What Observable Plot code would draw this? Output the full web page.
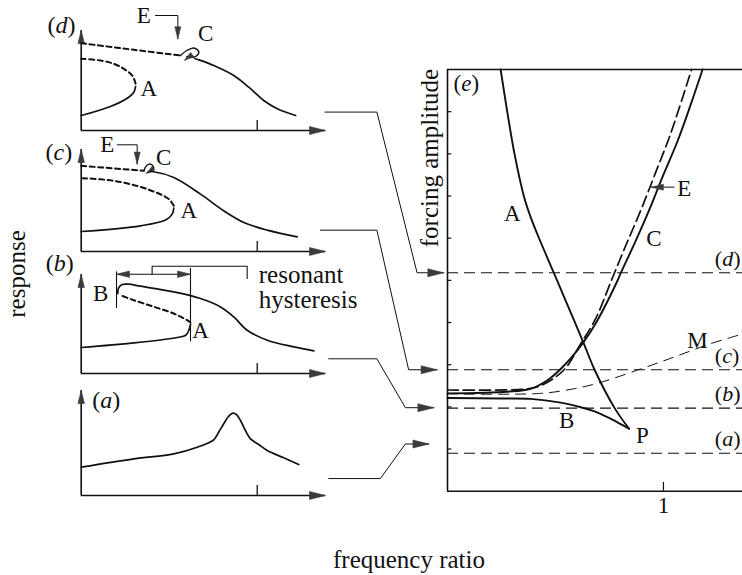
<!DOCTYPE html>
<html>
<head>
<meta charset="utf-8">
<script src="https://cdn.jsdelivr.net/npm/d3@7"></script>
<script src="https://cdn.jsdelivr.net/npm/@observablehq/plot@0.6"></script>
<style>
  html, body { margin: 0; padding: 0; background: #fff; }
  #fig { position: relative; width: 742px; height: 575px; overflow: hidden; background: #fff;
         font-family: "Liberation Serif", "Times New Roman", serif; color: #111; }
  #fig svg { position: absolute; overflow: visible; }
  .lbl { position: absolute; font-size: 25px; white-space: nowrap; line-height: 1; }
  #resp { left: 16px; top: 274px; transform: translate(-50%, -50%) rotate(-90deg); }
  #freq { left: 409px; top: 547px; transform: translateX(-50%); }
</style>
</head>
<body>
<div id="fig">
  <div class="lbl" id="resp">response</div>
  <div class="lbl" id="freq">frequency ratio</div>
</div>
<script>
// ---------------- DATA ----------------
// small panels: [frequency ratio, response]
const FR_MAX = 1.388;              // end of the small panels' frequency axes
const RESONANCE = 1;               // tick on the frequency axes

// panel (a) – linear-like resonance
const aCurve = [[0,0.283],[0.299,0.367],[0.526,0.417],[0.659,0.483],[0.753,0.557],[0.780,0.63],[0.810,0.717],[0.837,0.79],[0.861,0.823],[0.882,0.81],[0.905,0.75],[0.933,0.65],[0.962,0.567],[1.008,0.51],[1.057,0.45],[1.151,0.377],[1.236,0.31]];

// panel (b) – resonant hysteresis
const bLower = [[0,0.26],[0.299,0.306],[0.546,0.36],[0.594,0.383],[0.612,0.433],[0.621,0.49]];
const bUnstable = [[0.621,0.51],[0.602,0.533],[0.526,0.60],[0.413,0.667],[0.299,0.733],[0.223,0.783]];
const bUpper = [[0.208,0.80],[0.212,0.853],[0.233,0.89],[0.269,0.893],[0.337,0.873],[0.526,0.816],[0.678,0.75],[0.792,0.666],[0.867,0.566],[0.943,0.433],[1.057,0.333],[1.208,0.266],[1.322,0.226]];
const bJumpB = 0.2006, bJumpA = 0.621;   // frequencies of the two jumps
const bBracket = [[0.403,0.993],[0.403,1.073],[0.943,1.073],[0.943,0.95]];

// panel (c)
const cLower = [[0,0.20],[0.337,0.257],[0.479,0.314],[0.517,0.374],[0.526,0.434]];
const cUnstable = [[0.526,0.457],[0.498,0.524],[0.375,0.624],[0.185,0.707],[0,0.734]];
const cUpperUnstable = [[0,0.857],[0.356,0.807]];
const cJump = [[0.356,0.807],[0.372,0.86],[0.398,0.872],[0.412,0.835],[0.398,0.80],[0.375,0.79]];
const cUpper = [[0.395,0.80],[0.403,0.80],[0.526,0.74],[0.678,0.574],[0.810,0.407],[0.924,0.29],[1.057,0.214],[1.227,0.147]];
const cE = [[0.205,1.067],[0.318,1.067],[0.318,0.874]];

// panel (d)
const dLower = [[0,0.15],[0.166,0.24],[0.270,0.333],[0.299,0.383],[0.309,0.44]];
const dUnstable = [[0.309,0.467],[0.290,0.55],[0.242,0.617],[0.185,0.667],[0.110,0.70],[0,0.717]];
const dUpperUnstable = [[0,0.873],[0.299,0.807],[0.564,0.75]];
const dJump = [[0.564,0.75],[0.60,0.80],[0.64,0.825],[0.668,0.79],[0.655,0.745],[0.62,0.73],[0.60,0.74]];
const dUpper = [[0.645,0.72],[0.668,0.707],[0.753,0.65],[0.867,0.55],[0.952,0.433],[1.037,0.30],[1.114,0.217],[1.218,0.15]];
const dE = [[0.422,1.15],[0.549,1.15],[0.549,0.917]];

// panel (e): [frequency ratio, forcing amplitude]
const E_XMAX = 1.366;
const forcingTicks = [1,2,3,4,5,6,7,8,9];
const forcingLevels = [
  {label: "(a)", F: 0.90}, {label: "(b)", F: 1.97}, {label: "(c)", F: 2.88}, {label: "(d)", F: 5.18}
];
const curveA = [[0.246,10],[0.277,8.99],[0.311,7.98],[0.354,6.99],[0.385,6.50],[0.423,6.01],[0.493,5.17],[0.547,4.52],[0.629,3.53],[0.681,2.88],[0.774,1.97],[0.841,1.48]];
const curveB = [[0,2.21],[0.246,2.20],[0.385,2.19],[0.524,2.10],[0.617,1.99],[0.677,1.90],[0.755,1.72],[0.841,1.48]];
const curveC = [[0,2.32],[0.277,2.36],[0.385,2.43],[0.463,2.63],[0.540,2.98],[0.629,3.53],[0.694,4.05],[0.787,4.99],[0.802,5.17],[0.872,5.94],[0.939,6.73],[1.001,7.52],[1.066,8.31],[1.127,9.18],[1.181,10]];
const curveE = [[0,2.40],[0.354,2.42],[0.431,2.50],[0.540,2.88],[0.617,3.50],[0.686,4.09],[0.759,5.0],[0.825,5.82],[0.895,6.66],[0.964,7.56],[1.034,8.49],[1.130,10]];
const curveM = [[0,2.31],[0.431,2.32],[0.586,2.43],[0.709,2.58],[0.895,2.90],[1.049,3.18],[1.219,3.50],[1.368,3.73]];
const eArrow = [[1.049,7.21],[0.944,7.21]];

// connectors from the small panels to the forcing levels (in panel (e) units)
const connectors = [
  {level: "(d)", pts: [[-0.567,8.99],[-0.327,8.99],[-0.141,5.18],[-0.017,5.18]]},
  {level: "(c)", pts: [[-0.589,6.19],[-0.327,6.19],[-0.180,2.88],[-0.048,2.88]]},
  {level: "(b)", pts: [[-0.550,3.14],[-0.327,3.14],[-0.195,1.98],[-0.063,1.98]]},
  {level: "(a)", pts: [[-0.550,0.30],[-0.311,0.30],[-0.195,1.12],[-0.086,1.12]]}
];

// ---------------- HELPERS ----------------
const fig = document.getElementById("fig");
const FONT = "'Liberation Serif', 'Times New Roman', serif";
const INK = "#111", HEAD = "#3a3a3a";

function head(dx, dy) {
  return {draw(ctx, size) {
    const r = Math.sqrt(size / Math.PI), L = 2 * r, W = 0.5 * r;
    const bx = -L * dx, by = -L * dy;
    ctx.moveTo(0, 0);
    ctx.lineTo(bx - W * dy, by + W * dx);
    ctx.lineTo(bx + W * dy, by - W * dx);
    ctx.closePath();
  }};
}
const UP = head(0, -1), DOWN = head(0, 1), LEFT = head(-1, 0), RIGHT = head(1, 0);
const DOWNLEFT = head(-0.8, 0.6);
const X = d => d[0], Y = d => d[1];

function heads(points, symbol, r) {
  return Plot.dot(points, {x: X, y: Y, symbol, r, fill: HEAD, stroke: HEAD, strokeWidth: 0.6});
}
function solid(data, w = 1.7) {
  return Plot.line(data, {x: X, y: Y, curve: "catmull-rom", stroke: INK, strokeWidth: w});
}
function dashed(data, dash = "5,3.5", w = 2) {
  return Plot.line(data, {x: X, y: Y, curve: "catmull-rom", stroke: INK, strokeWidth: w, strokeDasharray: dash});
}
function label(text, x, y, opts = {}) {
  return Plot.text([text], {x: () => x, y: () => y, text: d => d, fontSize: 23, fill: INK, fontFamily: FONT, ...opts});
}

function smallPanel(axisY, yTop, marks) {
  const svg = Plot.plot({
    width: 380, height: 140,
    marginLeft: 80.7, marginRight: 55, marginTop: 30, marginBottom: 10,
    x: {domain: [0, FR_MAX], axis: null},
    y: {domain: [0, 1], axis: null},
    style: {background: "transparent", overflow: "visible", fontFamily: FONT},
    marks: [
      Plot.ruleX([0], {y1: 0, y2: yTop, stroke: INK, strokeWidth: 1.6}),
      Plot.ruleY([0], {x1: 0, x2: FR_MAX, stroke: INK, strokeWidth: 1.6}),
      Plot.ruleX([RESONANCE], {y1: 0, y2: 0.1, stroke: INK, strokeWidth: 1.3}),
      heads([[0, yTop]], UP, 6.5),
      heads([[FR_MAX, 0]], RIGHT, 8),
      ...marks
    ]
  });
  svg.style.left = "0px";
  svg.style.top = (axisY - 130) + "px";
  fig.appendChild(svg);
}

// ---------------- PANEL (e) ----------------
const flatConnectors = connectors.flatMap(c => c.pts.map(p => ({x: p[0], y: p[1], level: c.level})));
const ePlot = Plot.plot({
  width: 742, height: 575,
  marginLeft: 447, marginRight: 0, marginTop: 69, marginBottom: 84.3,
  x: {domain: [0, E_XMAX], axis: null},
  y: {domain: [0, 10], axis: null},
  style: {background: "transparent", overflow: "visible", fontFamily: FONT},
  marks: [
    Plot.ruleY(forcingLevels, {y: "F", x1: 0, x2: E_XMAX, stroke: INK, strokeWidth: 1.2, strokeDasharray: "11,6"}),
    dashed(curveM, "10,7", 1),
    dashed(curveE, "11,5", 1.7),
    solid(curveC, 1.9),
    solid(curveA, 1.9),
    solid(curveB, 1.9),
    Plot.ruleX([0], {y1: 0, y2: 10, stroke: INK, strokeWidth: 1.6}),
    Plot.ruleY([0, 10], {x1: 0, x2: E_XMAX, stroke: INK, strokeWidth: 1.6}),
    Plot.ruleY(forcingTicks, {x1: 0, x2: 0.02, stroke: INK, strokeWidth: 1.2}),
    Plot.ruleX([1], {y1: 0, y2: 0.21, stroke: INK, strokeWidth: 1.2}),
    Plot.text([1], {x: d => d, y: () => -0.34, text: d => String(d), fontSize: 23, fill: INK, fontFamily: FONT}),
    Plot.line(eArrow, {x: X, y: Y, stroke: INK, strokeWidth: 1}),
    heads([eArrow[1]], LEFT, 6),
    Plot.line(flatConnectors, {x: "x", y: "y", z: "level", stroke: INK, strokeWidth: 1}),
    heads(connectors.map(c => c.pts[c.pts.length - 1]), RIGHT, 8),
    Plot.text(["forcing amplitude"], {x: () => -0.083, y: () => 7.90, text: d => d, rotate: -90, fontSize: 25, fill: INK, fontFamily: FONT}),
    label("(e)", 0.028, 9.67, {textAnchor: "start"}),
    label("A", 0.300, 6.58),
    label("C", 0.956, 5.99),
    label("E", 1.096, 7.17),
    label("M", 1.158, 3.57),
    label("B", 0.552, 1.68),
    label("P", 0.903, 1.32),
    Plot.text(forcingLevels, {x: () => 1.238, y: d => d.F + 0.33, text: "label", textAnchor: "start", fontSize: 22, fill: INK, fontFamily: FONT})
  ]
});
ePlot.style.left = "0px";
ePlot.style.top = "0px";
fig.appendChild(ePlot);

// ---------------- SMALL PANELS ----------------
smallPanel(130, 1.0, [
  solid(dLower), dashed(dUnstable), dashed(dUpperUnstable),
  solid(dJump, 1.4), heads([[0.585, 0.70]], DOWNLEFT, 5),
  solid(dUpper),
  Plot.line(dE, {x: X, y: Y, stroke: INK, strokeWidth: 1}), heads([dE[2]], DOWN, 6),
  label("(d)", -0.032, 1.05, {textAnchor: "end", fontSize: 24}),
  label("A", 0.384, 0.417),
  label("C", 0.707, 0.967),
  label("E", 0.356, 1.15)
]);

smallPanel(250.7, 1.02, [
  solid(cLower), dashed(cUnstable), dashed(cUpperUnstable),
  solid(cJump, 1.4), heads([[0.37, 0.78]], DOWNLEFT, 4.5),
  solid(cUpper),
  Plot.line(cE, {x: X, y: Y, stroke: INK, strokeWidth: 1}), heads([cE[2]], DOWN, 6),
  label("(c)", -0.051, 0.99, {textAnchor: "end", fontSize: 24}),
  label("A", 0.611, 0.407),
  label("C", 0.469, 0.94),
  label("E", 0.148, 1.067)
]);

smallPanel(373.3, 0.99, [
  solid(bLower), dashed(bUnstable), solid(bUpper),
  Plot.ruleX([bJumpB], {y1: 0.65, y2: 1.016, stroke: INK, strokeWidth: 1.1}),
  Plot.ruleX([bJumpA], {y1: 0.316, y2: 1.05, stroke: INK, strokeWidth: 1.1}),
  Plot.ruleY([0.993], {x1: bJumpB, x2: bJumpA, stroke: INK, strokeWidth: 1.1}),
  heads([[bJumpB, 0.993]], LEFT, 6.5),
  heads([[bJumpA, 0.993]], RIGHT, 6.5),
  Plot.line(bBracket, {x: X, y: Y, stroke: INK, strokeWidth: 1.1}),
  label("(b)", -0.042, 1.10, {textAnchor: "end", fontSize: 24}),
  label("B", 0.11, 0.80),
  label("A", 0.678, 0.433),
  label("resonant", 1.009, 0.99, {textAnchor: "start", fontSize: 25}),
  label("hysteresis", 1.009, 0.74, {textAnchor: "start", fontSize: 25})
]);

smallPanel(495, 1.05, [
  solid(aCurve),
  label("(a)", 0.0625, 0.95, {textAnchor: "start", fontSize: 24})
]);

// italic letters inside parenthesised panel labels
d3.select(fig).selectAll("text").each(function () {
  const m = (this.textContent || "").match(/^\(([a-e])\)$/);
  if (!m) return;
  const ns = "http://www.w3.org/2000/svg";
  while (this.firstChild) this.removeChild(this.firstChild);
  const parts = [["(", "normal"], [m[1], "italic"], [")", "normal"]];
  for (const [t, st] of parts) {
    const ts = document.createElementNS(ns, "tspan");
    ts.setAttribute("font-style", st);
    ts.textContent = t;
    this.appendChild(ts);
  }
});
</script>
</body>
</html>
